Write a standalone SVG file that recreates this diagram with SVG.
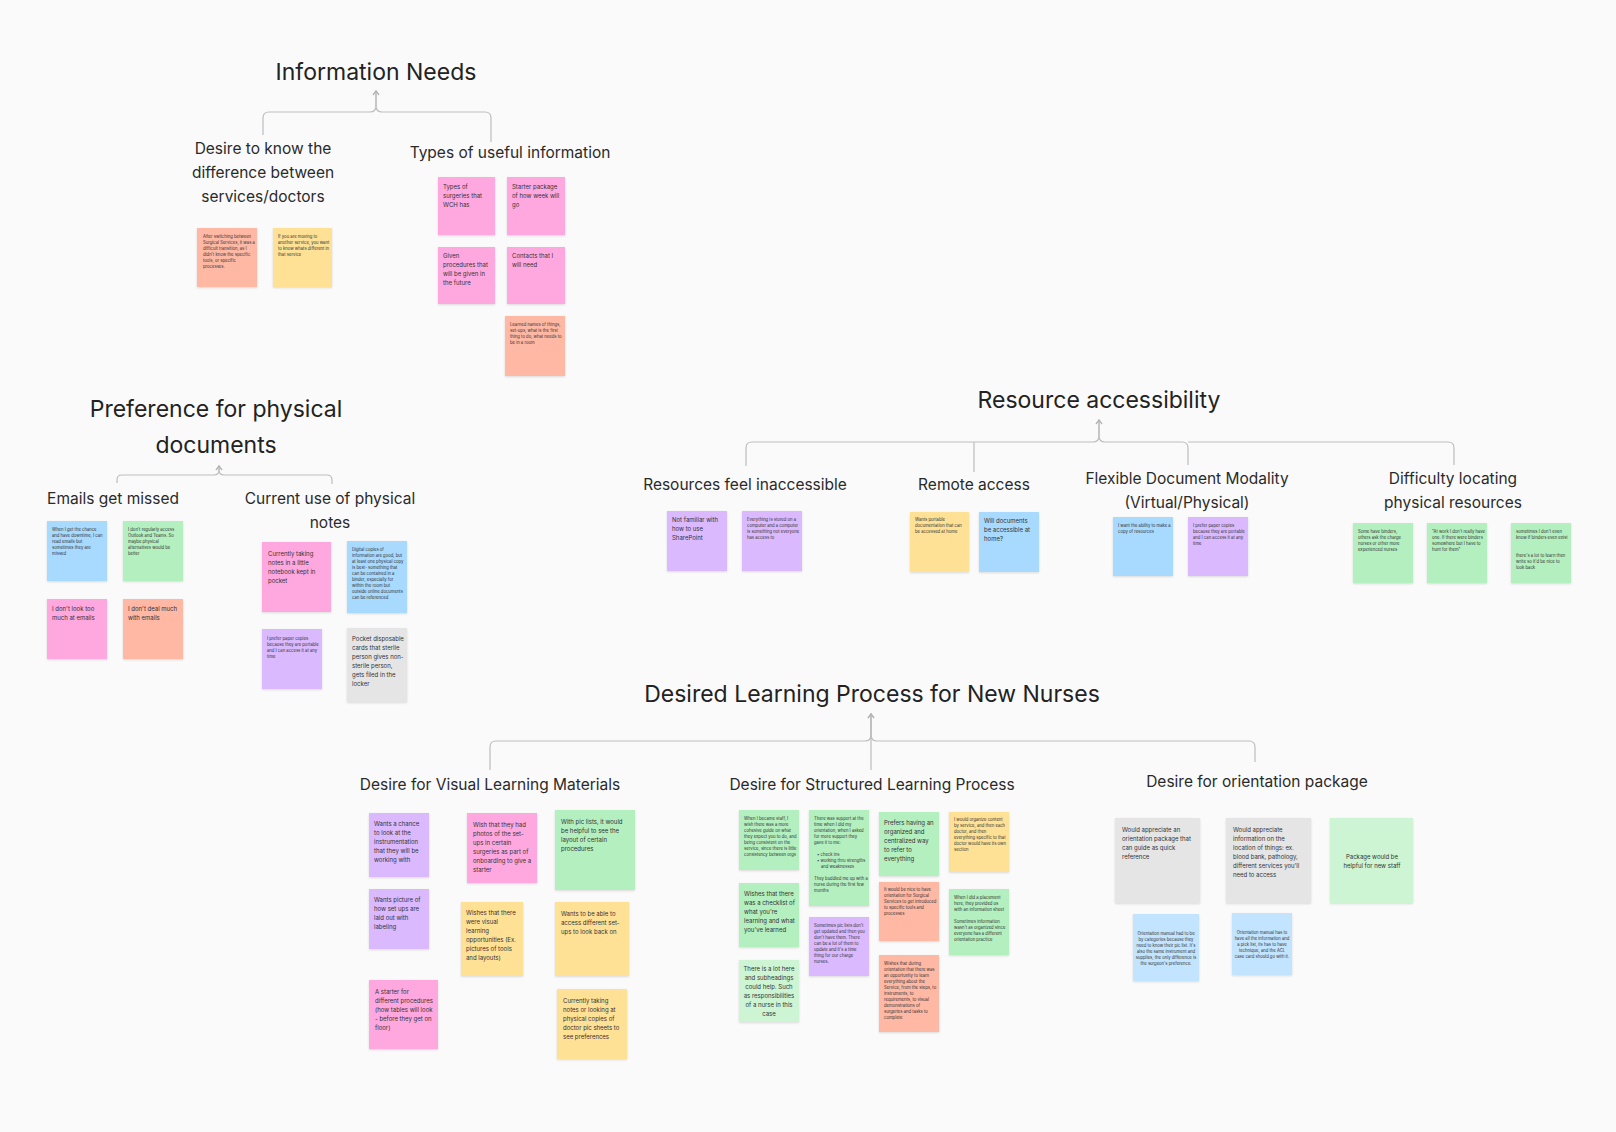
<svg xmlns="http://www.w3.org/2000/svg" width="1616" height="1132" viewBox="0 0 1616 1132">
<defs>
<filter id="sh" x="-10%" y="-10%" width="120%" height="125%"><feDropShadow dx="0" dy="1" stdDeviation="1" flood-color="#000" flood-opacity="0.13"/></filter>
<marker id="arr" markerWidth="8" markerHeight="8" refX="6" refY="4" orient="auto" markerUnits="userSpaceOnUse"><path d="M2,1 L6,4 L2,7" fill="none" stroke="#b3b3b3" stroke-width="1.1"/></marker>
</defs>
<style>
.t{font-family:Inter,"Liberation Sans",sans-serif;font-size:23px;fill:#222;text-anchor:middle}
.l{font-family:Inter,"Liberation Sans",sans-serif;font-size:15.5px;fill:#2a2a2a;text-anchor:middle}
.s{font-family:Inter,"Liberation Sans",sans-serif;font-size:4.2px;fill:#333}
.m{font-family:Inter,"Liberation Sans",sans-serif;font-size:6px;fill:#333}
.c{text-anchor:middle}
.st{filter:url(#sh)}
.pk{fill:#FFA8E0}.sa{fill:#FFB8A4}.ye{fill:#FFE196}.gr{fill:#B3EFBF}.bl{fill:#A8D9FF}.pu{fill:#DAB9FF}.ga{fill:#E5E5E5}.lg{fill:#CDF5D3}.lb{fill:#C2E4FF}
.cn{fill:none;stroke:#bdbdbd;stroke-width:1.2}
</style>
<rect width="1616" height="1132" fill="#FAFAFA"/>

<g id="connectors">
<path class="cn" d="M263,135 V118 Q263,112 269,112 H370 Q376,112 376,106 V91" marker-end="url(#arr)"/>
<path class="cn" d="M491,142 V118 Q491,112 485,112 H382 Q376,112 376,106 V91" marker-end="url(#arr)"/>
<path class="cn" d="M117,483 V480 Q117,475 122,475 H214 Q219,475 219,470 V466" marker-end="url(#arr)"/>
<path class="cn" d="M332,484 V480 Q332,475 327,475 H224 Q219,475 219,470 V466" marker-end="url(#arr)"/>
<path class="cn" d="M746,466 V448 Q746,442 752,442 H1093 Q1099,442 1099,436 V420" marker-end="url(#arr)"/>
<path class="cn" d="M974,472 V442"/>
<path class="cn" d="M1188,465 V448 Q1188,442 1182,442 H1105 Q1099,442 1099,436 V420" marker-end="url(#arr)"/>
<path class="cn" d="M1454,465 V448 Q1454,442 1448,442 H1188"/>
<path class="cn" d="M490,770 V747 Q490,741 496,741 H865 Q871,741 871,735 V714" marker-end="url(#arr)"/>
<path class="cn" d="M871,770 V714" marker-end="url(#arr)"/>
<path class="cn" d="M1255,762 V747 Q1255,741 1249,741 H877 Q871,741 871,735 V714" marker-end="url(#arr)"/>
</g>

<g id="title-information-needs"><text class="t" x="376" y="80">Information Needs</text></g>
<g id="label-desire-difference"><text class="l" x="263" y="154">Desire to know the<tspan x="263" dy="24">difference between</tspan><tspan x="263" dy="24">services/doctors</tspan></text></g>
<g id="label-types-info"><text class="l" x="510" y="158">Types of useful information</text></g>

<g id="title-preference"><text class="t" x="216" y="417">Preference for physical<tspan x="216" dy="36">documents</tspan></text></g>
<g id="label-emails"><text class="l" x="113" y="504">Emails get missed</text></g>
<g id="label-current-use"><text class="l" x="330" y="504">Current use of physical<tspan x="330" dy="24">notes</tspan></text></g>

<g id="title-resource"><text class="t" x="1099" y="408">Resource accessibility</text></g>
<g id="label-inaccessible"><text class="l" x="745" y="490">Resources feel inaccessible</text></g>
<g id="label-remote"><text class="l" x="974" y="490">Remote access</text></g>
<g id="label-flexible"><text class="l" x="1187" y="484">Flexible Document Modality<tspan x="1187" dy="24">(Virtual/Physical)</tspan></text></g>
<g id="label-difficulty"><text class="l" x="1453" y="484">Difficulty locating<tspan x="1453" dy="24">physical resources</tspan></text></g>

<g id="title-learning"><text class="t" x="872" y="702">Desired Learning Process for New Nurses</text></g>
<g id="label-visual"><text class="l" x="490" y="790">Desire for Visual Learning Materials</text></g>
<g id="label-structured"><text class="l" x="872" y="790">Desire for Structured Learning Process</text></g>
<g id="label-orientation"><text class="l" x="1257" y="787">Desire for orientation package</text></g>

<!-- Information needs stickies -->
<g id="n1"><rect class="st sa" x="197" y="228" width="60" height="59"/><text class="s" x="203" y="238">After switching between<tspan x="203" dy="6">Surgical Services, it was a</tspan><tspan x="203" dy="6">difficult transition, as I</tspan><tspan x="203" dy="6">didn't know the specific</tspan><tspan x="203" dy="6">tools, or specific</tspan><tspan x="203" dy="6">processes.</tspan></text></g>
<g id="n2"><rect class="st ye" x="273" y="228" width="59" height="59"/><text class="s" x="278" y="238">If you are moving to<tspan x="278" dy="6">another service, you want</tspan><tspan x="278" dy="6">to know whats different in</tspan><tspan x="278" dy="6">that service</tspan></text></g>
<g id="n3"><rect class="st pk" x="438" y="177" width="57" height="58"/><text class="m" x="443" y="189">Types of<tspan x="443" dy="9">surgeries that</tspan><tspan x="443" dy="9">WCH has</tspan></text></g>
<g id="n4"><rect class="st pk" x="507" y="177" width="58" height="58"/><text class="m" x="512" y="189">Starter package<tspan x="512" dy="9">of how week will</tspan><tspan x="512" dy="9">go</tspan></text></g>
<g id="n5"><rect class="st pk" x="438" y="247" width="57" height="57"/><text class="m" x="443" y="258">Given<tspan x="443" dy="9">procedures that</tspan><tspan x="443" dy="9">will be given in</tspan><tspan x="443" dy="9">the future</tspan></text></g>
<g id="n6"><rect class="st pk" x="507" y="247" width="58" height="57"/><text class="m" x="512" y="258">Contacts that I<tspan x="512" dy="9">will need</tspan></text></g>
<g id="n7"><rect class="st sa" x="505" y="316" width="60" height="60"/><text class="s" x="510" y="325.5">Learned names of things,<tspan x="510" dy="6">set-ups, what is the first</tspan><tspan x="510" dy="6">thing to do, what needs to</tspan><tspan x="510" dy="6">be in a room</tspan></text></g>

<!-- Preference stickies -->
<g id="p1"><rect class="st bl" x="47" y="521" width="60" height="60"/><text class="s" x="52" y="530.5">When I get the chance<tspan x="52" dy="6">and have downtime, I can</tspan><tspan x="52" dy="6">read emails but</tspan><tspan x="52" dy="6">sometimes they are</tspan><tspan x="52" dy="6">missed</tspan></text></g>
<g id="p2"><rect class="st gr" x="123" y="521" width="60" height="60"/><text class="s" x="128" y="530.5">I don't regularly access<tspan x="128" dy="6">Outlook and Teams. So</tspan><tspan x="128" dy="6">maybe physical</tspan><tspan x="128" dy="6">alternatives would be</tspan><tspan x="128" dy="6">better</tspan></text></g>
<g id="p3"><rect class="st pk" x="47" y="599" width="60" height="60"/><text class="m" x="52" y="611">I don't look too<tspan x="52" dy="9">much at emails</tspan></text></g>
<g id="p4"><rect class="st sa" x="123" y="599" width="60" height="60"/><text class="m" x="128" y="611">I don't deal much<tspan x="128" dy="9">with emails</tspan></text></g>
<g id="p5"><rect class="st pk" x="262" y="542" width="69" height="70"/><text class="m" x="268" y="555.5">Currently taking<tspan x="268" dy="9">notes in a little</tspan><tspan x="268" dy="9">notebook kept in</tspan><tspan x="268" dy="9">pocket</tspan></text></g>
<g id="p6"><rect class="st bl" x="347" y="541" width="60" height="72"/><text class="s" x="352" y="550.5">Digital copies of<tspan x="352" dy="6">information are good, but</tspan><tspan x="352" dy="6">at least one physical copy</tspan><tspan x="352" dy="6">is best- something that</tspan><tspan x="352" dy="6">can be contained in a</tspan><tspan x="352" dy="6">binder, especially for</tspan><tspan x="352" dy="6">within the room but</tspan><tspan x="352" dy="6">outside online documents</tspan><tspan x="352" dy="6">can be referenced</tspan></text></g>
<g id="p7"><rect class="st pu" x="262" y="629" width="60" height="60"/><text class="s" x="267" y="639.5">I prefer paper copies<tspan x="267" dy="6">because they are portable</tspan><tspan x="267" dy="6">and I can access it at any</tspan><tspan x="267" dy="6">time</tspan></text></g>
<g id="p8"><rect class="st ga" x="347" y="628" width="60" height="74"/><text class="m" x="352" y="640.5">Pocket disposable<tspan x="352" dy="9">cards that sterile</tspan><tspan x="352" dy="9">person gives non-</tspan><tspan x="352" dy="9">sterile person,</tspan><tspan x="352" dy="9">gets filed in the</tspan><tspan x="352" dy="9">locker</tspan></text></g>

<!-- Resource stickies -->
<g id="r1"><rect class="st pu" x="667" y="511" width="60" height="60"/><text class="m" x="672" y="522">Not familiar with<tspan x="672" dy="9">how to use</tspan><tspan x="672" dy="9">SharePoint</tspan></text></g>
<g id="r2"><rect class="st pu" x="742" y="511" width="60" height="60"/><text class="s" x="747" y="520.5">Everything is stored on a<tspan x="747" dy="6">computer and a computer</tspan><tspan x="747" dy="6">is something not everyone</tspan><tspan x="747" dy="6">has access to</tspan></text></g>
<g id="r3"><rect class="st ye" x="910" y="512" width="59" height="60"/><text class="s" x="915" y="520.5">Wants portable<tspan x="915" dy="6">documentation that can</tspan><tspan x="915" dy="6">be accessed at home</tspan></text></g>
<g id="r4"><rect class="st bl" x="979" y="512" width="60" height="60"/><text class="m" x="984" y="523">Will documents<tspan x="984" dy="9">be accessible at</tspan><tspan x="984" dy="9">home?</tspan></text></g>
<g id="r5"><rect class="st bl" x="1113" y="517" width="60" height="59"/><text class="s" x="1118" y="526.5">I want the ability to make a<tspan x="1118" dy="6">copy of resources</tspan></text></g>
<g id="r6"><rect class="st pu" x="1188" y="517" width="60" height="59"/><text class="s" x="1193" y="526.5">I prefer paper copies<tspan x="1193" dy="6">because they are portable</tspan><tspan x="1193" dy="6">and I can access it at any</tspan><tspan x="1193" dy="6">time</tspan></text></g>
<g id="r7"><rect class="st gr" x="1353" y="523" width="60" height="60"/><text class="s" x="1358" y="532.5">Some have binders,<tspan x="1358" dy="6">others ask the charge</tspan><tspan x="1358" dy="6">nurses or other more</tspan><tspan x="1358" dy="6">experienced nurses</tspan></text></g>
<g id="r8"><rect class="st gr" x="1427" y="523" width="60" height="60"/><text class="s" x="1432" y="532.5">"At work I don't really have<tspan x="1432" dy="6">one. If there were binders</tspan><tspan x="1432" dy="6">somewhere but I have to</tspan><tspan x="1432" dy="6">hunt for them"</tspan></text></g>
<g id="r9"><rect class="st gr" x="1511" y="523" width="60" height="60"/><text class="s" x="1516" y="532.5">sometimes I don't even<tspan x="1516" dy="6">know if binders even exist</tspan><tspan x="1516" dy="18">there's a lot to learn then</tspan><tspan x="1516" dy="6">write so it'd be nice to</tspan><tspan x="1516" dy="6">look back</tspan></text></g>

<!-- Visual learning stickies -->
<g id="v1"><rect class="st pu" x="369" y="813" width="60" height="64"/><text class="m" x="374" y="825.5">Wants a chance<tspan x="374" dy="9">to look at the</tspan><tspan x="374" dy="9">instrumentation</tspan><tspan x="374" dy="9">that they will  be</tspan><tspan x="374" dy="9">working with</tspan></text></g>
<g id="v2"><rect class="st pk" x="467" y="813" width="70" height="70"/><text class="m" x="473" y="826.5">Wish that they had<tspan x="473" dy="9">photos of the set-</tspan><tspan x="473" dy="9">ups in certain</tspan><tspan x="473" dy="9">surgeries as part of</tspan><tspan x="473" dy="9">onboarding to give a</tspan><tspan x="473" dy="9">starter</tspan></text></g>
<g id="v3"><rect class="st gr" x="555" y="810" width="80" height="80"/><text class="m" x="561" y="823.5">With pic lists, it would<tspan x="561" dy="9">be helpful to see the</tspan><tspan x="561" dy="9">layout of certain</tspan><tspan x="561" dy="9">procedures</tspan></text></g>
<g id="v4"><rect class="st pu" x="369" y="889" width="60" height="60"/><text class="m" x="374" y="901.5">Wants picture of<tspan x="374" dy="9">how set ups are</tspan><tspan x="374" dy="9">laid out with</tspan><tspan x="374" dy="9">labeling</tspan></text></g>
<g id="v5"><rect class="st ye" x="461" y="902" width="62" height="74"/><text class="m" x="466" y="914.5">Wishes that there<tspan x="466" dy="9">were visual</tspan><tspan x="466" dy="9">learning</tspan><tspan x="466" dy="9">opportunities (Ex.</tspan><tspan x="466" dy="9">pictures of tools</tspan><tspan x="466" dy="9">and layouts)</tspan></text></g>
<g id="v6"><rect class="st ye" x="555" y="902" width="74" height="74"/><text class="m" x="561" y="915.5">Wants to be able to<tspan x="561" dy="9">access different set-</tspan><tspan x="561" dy="9">ups to look back on</tspan></text></g>
<g id="v7"><rect class="st pk" x="369" y="980" width="69" height="69"/><text class="m" x="375" y="993.5">A starter for<tspan x="375" dy="9">different procedures</tspan><tspan x="375" dy="9">(how tables will look</tspan><tspan x="375" dy="9">- before they get on</tspan><tspan x="375" dy="9">floor)</tspan></text></g>
<g id="v8"><rect class="st ye" x="557" y="989" width="70" height="70"/><text class="m" x="563" y="1002.5">Currently taking<tspan x="563" dy="9">notes or looking at</tspan><tspan x="563" dy="9">physical copies of</tspan><tspan x="563" dy="9">doctor pic sheets to</tspan><tspan x="563" dy="9">see preferences</tspan></text></g>

<!-- Structured learning stickies -->
<g id="u1"><rect class="st gr" x="739" y="810" width="60" height="60"/><text class="s" x="744" y="819.5">When I became staff, I<tspan x="744" dy="6">wish there was a more</tspan><tspan x="744" dy="6">cohesive guide on what</tspan><tspan x="744" dy="6">they expect you to do, and</tspan><tspan x="744" dy="6">being consistent on the</tspan><tspan x="744" dy="6">service, since there is little</tspan><tspan x="744" dy="6">consistency between orgs</tspan></text></g>
<g id="u2"><rect class="st gr" x="809" y="810" width="60" height="96"/><text class="s" x="814" y="819.5">There was support at the<tspan x="814" dy="6">time when I did my</tspan><tspan x="814" dy="6">orientation, when I asked</tspan><tspan x="814" dy="6">for more support they</tspan><tspan x="814" dy="6">gave it to me:</tspan><tspan x="817" dy="12">•  check ins</tspan><tspan x="817" dy="6">•  working thru strengths</tspan><tspan x="821" dy="6">and weaknesses</tspan><tspan x="814" dy="12">They buddied me up with a</tspan><tspan x="814" dy="6">nurse during the first few</tspan><tspan x="814" dy="6">months</tspan></text></g>
<g id="u3"><rect class="st gr" x="879" y="812" width="60" height="64"/><text class="m" x="884" y="824.5">Prefers having an<tspan x="884" dy="9">organized and</tspan><tspan x="884" dy="9">centralized way</tspan><tspan x="884" dy="9">to refer to</tspan><tspan x="884" dy="9">everything</tspan></text></g>
<g id="u4"><rect class="st ye" x="949" y="812" width="60" height="60"/><text class="s" x="954" y="820.5">I would organize content<tspan x="954" dy="6">by service, and then each</tspan><tspan x="954" dy="6">doctor, and then</tspan><tspan x="954" dy="6">everything specific to that</tspan><tspan x="954" dy="6">doctor would have its own</tspan><tspan x="954" dy="6">section</tspan></text></g>
<g id="u5"><rect class="st gr" x="739" y="883" width="60" height="64"/><text class="m" x="744" y="895.5">Wishes that there<tspan x="744" dy="9">was a checklist of</tspan><tspan x="744" dy="9">what you're</tspan><tspan x="744" dy="9">learning and what</tspan><tspan x="744" dy="9">you've learned</tspan></text></g>
<g id="u6"><rect class="st pu" x="809" y="917" width="60" height="59"/><text class="s" x="814" y="926.5">Sometimes pic lists don't<tspan x="814" dy="6">get updated and then you</tspan><tspan x="814" dy="6">don't have them. There</tspan><tspan x="814" dy="6">can be a lot of them to</tspan><tspan x="814" dy="6">update and it's a time</tspan><tspan x="814" dy="6">thing for our charge</tspan><tspan x="814" dy="6">nurses.</tspan></text></g>
<g id="u7"><rect class="st sa" x="879" y="882" width="60" height="59"/><text class="s" x="884" y="890.5">It would be nice to have<tspan x="884" dy="6">orientation for Surgical</tspan><tspan x="884" dy="6">Services to get introduced</tspan><tspan x="884" dy="6">to specific tools and</tspan><tspan x="884" dy="6">processes</tspan></text></g>
<g id="u8"><rect class="st gr" x="949" y="889" width="60" height="66"/><text class="s" x="954" y="898.5">When I did a placement<tspan x="954" dy="6">here, they provided us</tspan><tspan x="954" dy="6">with an information sheet</tspan><tspan x="954" dy="12">Sometimes information</tspan><tspan x="954" dy="6">wasn't as organized since</tspan><tspan x="954" dy="6">everyone has a different</tspan><tspan x="954" dy="6">orientation practice</tspan></text></g>
<g id="u9"><rect class="st lg" x="739" y="960" width="60" height="62"/><text class="m c" x="769" y="971">There is a lot here<tspan x="769" dy="9">and subheadings</tspan><tspan x="769" dy="9">could help. Such</tspan><tspan x="769" dy="9">as responsibilities</tspan><tspan x="769" dy="9">of a nurse in this</tspan><tspan x="769" dy="9">case</tspan></text></g>
<g id="u10"><rect class="st sa" x="879" y="955" width="60" height="77"/><text class="s" x="884" y="964.5">Wishes that during<tspan x="884" dy="6">orientation that there was</tspan><tspan x="884" dy="6">an opportunity to learn</tspan><tspan x="884" dy="6">everything about the</tspan><tspan x="884" dy="6">Service, from the steps, to</tspan><tspan x="884" dy="6">instruments, to</tspan><tspan x="884" dy="6">requirements, to visual</tspan><tspan x="884" dy="6">demonstrations of</tspan><tspan x="884" dy="6">surgeries and tasks to</tspan><tspan x="884" dy="6">complete</tspan></text></g>

<!-- Orientation package stickies -->
<g id="o1"><rect class="st ga" x="1115" y="818" width="85" height="85"/><text class="m" x="1122" y="832">Would appreciate an<tspan x="1122" dy="9">orientation package that</tspan><tspan x="1122" dy="9">can guide as quick</tspan><tspan x="1122" dy="9">reference</tspan></text></g>
<g id="o2"><rect class="st ga" x="1226" y="818" width="85" height="85"/><text class="m" x="1233" y="832">Would appreciate<tspan x="1233" dy="9">information on the</tspan><tspan x="1233" dy="9">location of things: ex.</tspan><tspan x="1233" dy="9">blood bank, pathology,</tspan><tspan x="1233" dy="9">different services you'll</tspan><tspan x="1233" dy="9">need to access</tspan></text></g>
<g id="o3"><rect class="st lg" x="1330" y="818" width="83" height="85"/><text class="m c" x="1372" y="859">Package would be<tspan x="1372" dy="9">helpful for new staff</tspan></text></g>
<g id="o4"><rect class="st lb" x="1133" y="914" width="66" height="67"/><text class="s c" x="1166" y="934.5">Orientation manual had to be<tspan x="1166" dy="6">by categories because they</tspan><tspan x="1166" dy="6">need to know their pic list. It's</tspan><tspan x="1166" dy="6">also the same instrument and</tspan><tspan x="1166" dy="6">supplies, the only difference is</tspan><tspan x="1166" dy="6">the surgeon's preference.</tspan></text></g>
<g id="o5"><rect class="st lb" x="1232" y="913" width="60" height="62"/><text class="s c" x="1262" y="933.5">Orientation manual has to<tspan x="1262" dy="6">have all the information and</tspan><tspan x="1262" dy="6">a pick list, its has to have</tspan><tspan x="1262" dy="6">technique, and the ACL</tspan><tspan x="1262" dy="6">case card should go with it.</tspan></text></g>
</svg>
